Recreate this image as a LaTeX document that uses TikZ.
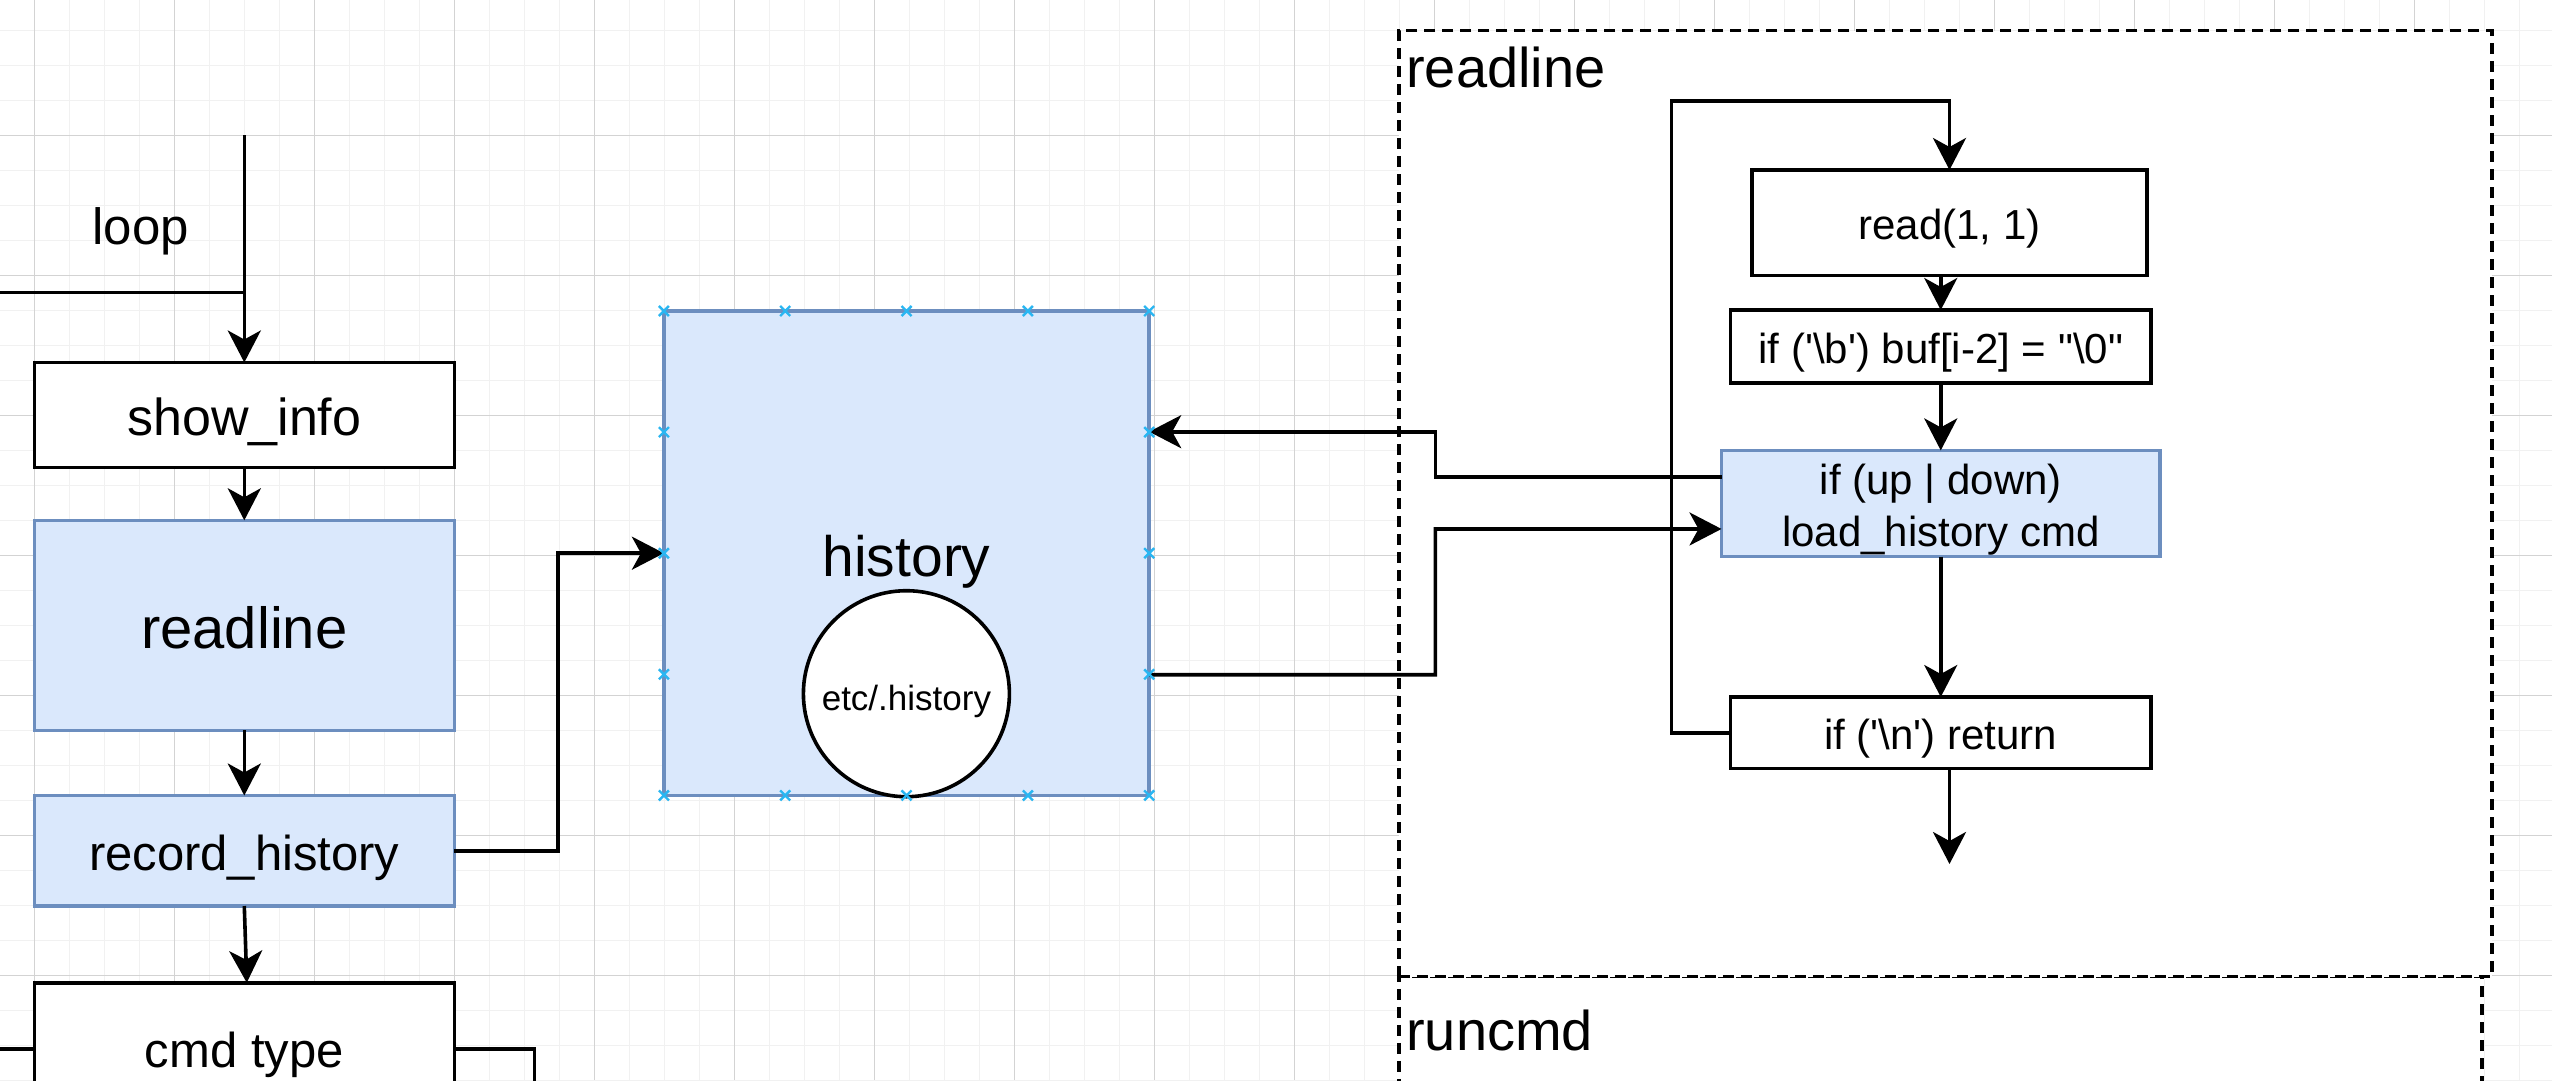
\documentclass[tikz,border=0pt]{standalone}
\usepackage{fontspec}
\newfontfamily\lsans{Liberation Sans}
\usetikzlibrary{arrows.meta}
\definecolor{fillblue}{HTML}{DAE8FC}
\definecolor{strokeblue}{HTML}{6C8EBF}
\definecolor{markblue}{HTML}{29B6F2}
\definecolor{gridminor}{HTML}{F1F1F1}
\definecolor{gridmajor}{HTML}{D3D3D3}
\tikzset{
  fs/.style={font=\lsans\fontsize{#1pt}{#1pt}\selectfont, text height={#1pt*0.8}, text depth=0pt},
  ln/.style={line width=3.6pt, draw=black},
  arr/.style={ln, -{Stealth[length=32pt,width=33pt,inset=9pt]}},
  box/.style={draw=black, fill=white, line width=3.6pt, inner sep=0pt, outer sep=0pt},
  bluebox/.style={box, draw=strokeblue, fill=fillblue},
  cont/.style={draw=black, fill=white, line width=3.4pt, dash pattern=on 11pt off 7pt, inner sep=0pt, outer sep=0pt},
  mk/.style={draw=markblue, line width=2.4pt},
  gmin/.style={draw=gridminor, line width=1.5pt},
  gmaj/.style={draw=gridmajor, line width=1.2pt}
}
\begin{document}
\begin{tikzpicture}[x=1pt,y=-1pt]
\useasboundingbox (0,0) rectangle (2552,1080);
\clip (0,0) rectangle (2552,1080);
\fill[white] (0,0) rectangle (2552,1080);
% grid
\foreach \i in {0,...,73} { \draw[gmin] ({-0.7+35*\i},0) -- ({-0.7+35*\i},1080); }
\foreach \i in {0,...,31} { \draw[gmin] (0,{-4.7+35*\i}) -- (2552,{-4.7+35*\i}); }
\foreach \i in {0,...,18} { \draw[gmaj] ({34.3+140*\i},0) -- ({34.3+140*\i},1080); }
\foreach \i in {0,...,8} { \draw[gmaj] (0,{-4.7+140*\i}) -- (2552,{-4.7+140*\i}); }

% containers
\node[cont, minimum width=1083.2, minimum height=143.4] (runc) at (1940.4,1048.3) {};
\node[cont, minimum width=1093.2, minimum height=946.1] (rlc) at (1945.4,503.55) {};
\node[fs=56, anchor=base west, inner sep=0pt] (rlclbl) at (1406,87.5) {readline};
\node[fs=56, anchor=base west, inner sep=0pt] (runclbl) at (1406,1050.3) {runcmd};

% left column
\node[fs=51, anchor=base, inner sep=0pt] (looplbl) at (140.6,244) {loop};
\node[box, fs=52, minimum width=420, minimum height=105] (show) at (244.3,415) {show\_info};
\node[bluebox, fs=58, minimum width=420, minimum height=210] (readL) at (244.3,625.3) {readline};
\node[bluebox, fs=49, minimum width=420, minimum height=110.5] (rec) at (244.3,850.75) {record\_history};
\node[box, fs=49, minimum width=420, minimum height=130] (cmd) at (244.3,1047.7) {cmd type};

% history
\node[bluebox, fs=57, minimum width=485.3, minimum height=484.4] (hist) at (906.55,553.2) {history};
\node[box, circle, fs=35, text height=34pt, minimum size=206] (circ) at (906.4,693.7) {etc/.history};

% right flow
\node[box, fs=42, minimum width=395, minimum height=105.5] (read) at (1949.5,222.75) {read(1, 1)};
\node[box, fs=42, minimum width=420.5, minimum height=73] (ifb) at (1940.75,346.5) {if ('\textbackslash b') buf[i-2] = "\textbackslash 0"};
\node[bluebox, minimum width=438.5, minimum height=106.1] (ifup) at (1940.75,503.45) {};
\node[fs=42, anchor=base, inner sep=0pt] (ifupA) at (1940.75,494.5) {if (up | down)};
\node[fs=42, anchor=base, inner sep=0pt] (ifupB) at (1940.75,546) {load\_history cmd};
\node[box, fs=42, minimum width=420.5, minimum height=71.6] (ifn) at (1940.75,732.8) {if ('\textbackslash n') return};

% left connectors
\coordinate (loopTop) at (244.3,135.3);
\coordinate (loopIn) at (-10,292.5);
\draw[arr] (loopTop) -- (show.north);
\draw[ln] (loopIn) -- (loopIn -| show.north);
\draw[arr] (show.south) -- (readL.north);
\draw[arr] (readL.south) -- (rec.north);
\draw[arr] (rec.south) -- ([xshift=2.5pt]cmd.north);
\draw[arr] (rec.east) -- (558,850.75) |- (hist.west);
\coordinate (cmdIn) at (-10,1049);
\coordinate (cmdOut) at (534.6,1100);
\draw[ln] (cmdIn) -- (cmdIn -| cmd.west);
\draw[ln] (cmd.east |- cmdIn) -| (cmdOut);

% right connectors
\draw[arr] (read.south -| ifb.north) -- (ifb.north);
\draw[arr] (ifb.south) -- (ifup.north);
\draw[arr] (ifup.south) -- (ifn.north);
\coordinate (retEnd) at (1949.5,864);
\draw[arr] (ifn.south -| retEnd) -- (retEnd);
\draw[arr] (ifn.west) -| (1671.5,101.2) -| (read.north);
\draw[arr] ([yshift=26.5pt]ifup.west) -| (1435.3,431.7) -- ([yshift=121.5pt]hist.east);
\draw[arr] ([yshift=-121.5pt]hist.east) -| (1435.3,529) -- ([yshift=-25.5pt]ifup.west);

% connection markers on history
\foreach \x in {663.9,785.2,906.55,1027.9,1149.2} {
  \foreach \y in {311,795.4} {
    \draw[mk] (\x-5,\y-5) -- (\x+5,\y+5) (\x-5,\y+5) -- (\x+5,\y-5);
  }
}
\foreach \x in {663.9,1149.2} {
  \foreach \y in {432.1,553.2,674.3} {
    \draw[mk] (\x-5,\y-5) -- (\x+5,\y+5) (\x-5,\y+5) -- (\x+5,\y-5);
  }
}
\end{tikzpicture}
\end{document}
